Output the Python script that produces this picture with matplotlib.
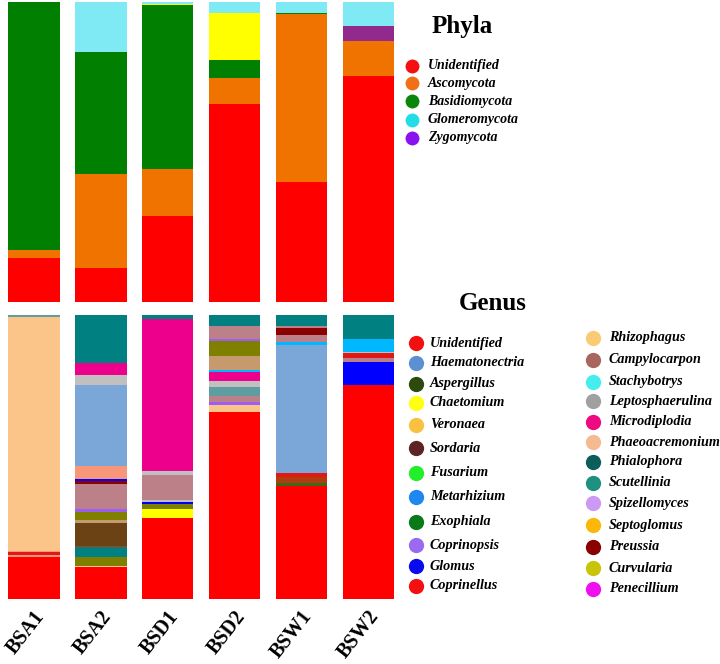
import matplotlib
matplotlib.use("Agg")
import matplotlib.pyplot as plt
import matplotlib.transforms as mtransforms
import numpy as np

# ---------------- data ----------------
samples = ["BSA1", "BSA2", "BSD1", "BSD2", "BSW1", "BSW2"]

# Phyla (% relative abundance), stacked bottom -> top
phyla_names = ["Unidentified", "Ascomycota", "Basidiomycota", "Other", "Zygomycota", "Glomeromycota"]
phy_unidentified = [14.7, 11.3, 28.7, 66.0, 40.0, 75.3]
phy_ascomycota = [2.5, 31.3, 15.7, 8.7, 56.0, 11.7]
phy_basidiomycota = [82.8, 40.7, 54.7, 6.0, 0.5, 0.0]
phy_other = [0.0, 0.0, 0.3, 15.7, 0.0, 0.0]
phy_zygomycota = [0.0, 0.0, 0.0, 0.0, 0.0, 5.0]
phy_glomeromycota = [0.0, 16.7, 0.7, 3.7, 3.5, 8.0]

# Genus segments per sample, stacked bottom -> top
genus_BSA1 = [("Unidentified", 14.8), ("Rhizophagus", 0.6), ("Coprinellus", 1.0),
              ("Rhizophagus", 0.6), ("Phaeoacremonium", 82.2), ("Scutellinia", 0.8)]
genus_BSA2 = [("Unidentified", 11.3), ("Septoglomus", 0.4), ("Curvularia", 3.0),
              ("Phialophora", 3.6), ("Fusarium", 0.5), ("Sordaria", 7.9), ("Veronaea", 1.0),
              ("Curvularia", 2.7), ("Coprinopsis", 1.2), ("Campylocarpon", 8.7),
              ("Preussia", 1.0), ("Glomus", 0.8), ("Rhizophagus", 4.7),
              ("Haematonectria", 28.5), ("Leptosphaerulina", 3.4), ("Microdiplodia", 4.2),
              ("Phialophora", 16.9)]
genus_BSD1 = [("Unidentified", 28.3), ("Chaetomium", 3.2), ("Curvularia", 1.8),
              ("Glomus", 0.7), ("Leptosphaerulina", 0.7), ("Campylocarpon", 9.0),
              ("Leptosphaerulina", 1.2), ("Microdiplodia", 53.5), ("Phialophora", 1.4)]
genus_BSD2 = [("Unidentified", 65.6), ("Phaeoacremonium", 2.6), ("Coprinopsis", 0.9),
              ("Campylocarpon", 2.2), ("Scutellinia", 3.1), ("Leptosphaerulina", 2.2),
              ("Microdiplodia", 3.3), ("Metarhizium", 0.6), ("Veronaea", 5.0),
              ("Curvularia", 5.3), ("Coprinopsis", 0.6), ("Campylocarpon", 4.6),
              ("Phialophora", 3.8)]
genus_BSW1 = [("Unidentified", 39.7), ("Aspergillus", 0.9), ("Fusarium", 2.1),
              ("Coprinellus", 1.6), ("Haematonectria", 45.0), ("Metarhizium", 1.1),
              ("Campylocarpon", 2.5), ("Preussia", 2.3), ("Campylocarpon", 0.6),
              ("Phialophora", 4.0)]
genus_BSW2 = [("Unidentified", 75.2), ("Glomus", 8.2), ("Campylocarpon", 1.4),
              ("Coprinellus", 1.5), ("Leptosphaerulina", 0.4), ("Metarhizium", 4.6),
              ("Phialophora", 8.5)]

phyla_legend = ["Unidentified", "Ascomycota", "Basidiomycota", "Glomeromycota", "Zygomycota"]
genus_legend_left = ["Unidentified", "Haematonectria", "Aspergillus", "Chaetomium", "Veronaea",
                     "Sordaria", "Fusarium", "Metarhizium", "Exophiala", "Coprinopsis",
                     "Glomus", "Coprinellus"]
genus_legend_right = ["Rhizophagus", "Campylocarpon", "Stachybotrys", "Leptosphaerulina",
                      "Microdiplodia", "Phaeoacremonium", "Phialophora", "Scutellinia",
                      "Spizellomyces", "Septoglomus", "Preussia", "Curvularia", "Penecillium"]

# ---------------- styles ----------------
phyla_bar_colors = {"Unidentified": "#FF0000", "Ascomycota": "#F07300", "Basidiomycota": "#007F00",
                    "Other": "#FFFF00", "Zygomycota": "#922A8E", "Glomeromycota": "#7FEAF4"}
phyla_leg_colors = {"Unidentified": "#F41010", "Ascomycota": "#F07018", "Basidiomycota": "#0A860A",
                    "Glomeromycota": "#22DDE6", "Zygomycota": "#8A12F0"}
genus_bar_colors = {"Unidentified": "#FF0000", "Phialophora": "#008080", "Microdiplodia": "#EC008C",
                    "Leptosphaerulina": "#C0C0C0", "Haematonectria": "#7BA7D8",
                    "Campylocarpon": "#BC8089", "Rhizophagus": "#F8967A", "Glomus": "#0000FF",
                    "Preussia": "#8B0000", "Coprinopsis": "#9B5DF5", "Curvularia": "#808000",
                    "Veronaea": "#C69A6C", "Sordaria": "#6B4213", "Phaeoacremonium": "#FBC58A",
                    "Scutellinia": "#5F9EA0", "Metarhizium": "#00B8FF", "Chaetomium": "#FFFF00",
                    "Fusarium": "#B23C0C", "Aspergillus": "#3A6A1A", "Coprinellus": "#E01818",
                    "Septoglomus": "#FFC890"}
genus_leg_colors = {"Unidentified": "#F41010", "Haematonectria": "#5C90D2", "Aspergillus": "#2C4A0E",
                    "Chaetomium": "#FFFF10", "Veronaea": "#FAC040", "Sordaria": "#5E2424",
                    "Fusarium": "#22EE2A", "Metarhizium": "#1E88F0", "Exophiala": "#0A7A18",
                    "Coprinopsis": "#9B6BEF", "Glomus": "#0A0AEE", "Coprinellus": "#F41010",
                    "Rhizophagus": "#F9CB74", "Campylocarpon": "#A8665E", "Stachybotrys": "#44EEEE",
                    "Leptosphaerulina": "#A0A0A0", "Microdiplodia": "#EE0A80",
                    "Phaeoacremonium": "#F5BA90", "Phialophora": "#0B5E5A", "Scutellinia": "#1E9080",
                    "Spizellomyces": "#CC99F5", "Septoglomus": "#FBB80B", "Preussia": "#8B0000",
                    "Curvularia": "#C7C40A", "Penecillium": "#EE10EE"}

W, H = 720, 664
fig = plt.figure(figsize=(W / 100, H / 100), dpi=100)

def px_axes(x0, y0, x1, y1):
    return fig.add_axes([x0 / W, 1 - y1 / H, (x1 - x0) / W, (y1 - y0) / H])

xpos = np.arange(len(samples))
bar_w = 0.77
xlim = (-0.51, 5.40)

# ---- Phyla panel ----
ax1 = px_axes(0, 2, 395, 302)
phy_matrix = np.array([phy_unidentified, phy_ascomycota, phy_basidiomycota,
                       phy_other, phy_zygomycota, phy_glomeromycota], dtype=float)
phy_matrix = phy_matrix / phy_matrix.sum(axis=0) * 100
bottom = np.zeros(len(samples))
for name, vals in zip(phyla_names, phy_matrix):
    ax1.bar(xpos, vals, bottom=bottom, width=bar_w, color=phyla_bar_colors[name], linewidth=0)
    bottom += vals
ax1.set_xlim(*xlim)
ax1.set_ylim(0, 100)
ax1.axis("off")

# ---- Genus panel ----
ax2 = px_axes(0, 315, 395, 599)
genus_data = [genus_BSA1, genus_BSA2, genus_BSD1, genus_BSD2, genus_BSW1, genus_BSW2]
for i, segs in enumerate(genus_data):
    total = sum(v for _, v in segs)
    b = 0.0
    for name, v in segs:
        h = v / total * 100
        ax2.bar(xpos[i], h, bottom=b, width=bar_w, color=genus_bar_colors[name], linewidth=0)
        b += h
ax2.set_xlim(*xlim)
ax2.set_ylim(0, 100)
for s in ax2.spines.values():
    s.set_visible(False)
ax2.set_yticks([])
ax2.set_xticks(xpos)
ax2.set_xticklabels(samples, rotation=52, ha="right", va="center", rotation_mode="anchor",
                    fontfamily="Liberation Serif", fontweight="bold", fontsize=14.5)
ax2.tick_params(axis="x", length=0, pad=10)
offset = mtransforms.ScaledTranslation(7 / 100, 0, fig.dpi_scale_trans)
for lab in ax2.get_xticklabels():
    lab.set_transform(lab.get_transform() + offset)

# ---- legends (overlay in pixel coordinates) ----
lax = fig.add_axes([0, 0, 1, 1], zorder=5)
lax.set_xlim(0, W)
lax.set_ylim(H, 0)
lax.axis("off")
lax.patch.set_alpha(0)

serif = "Liberation Serif"
lax.text(462, 26, "Phyla", ha="center", va="center", fontfamily=serif,
         fontweight="bold", fontsize=18)
lax.text(493, 304, "Genus", ha="center", va="center", fontfamily=serif,
         fontweight="bold", fontsize=18)

phyla_y = [66, 83, 101, 120, 138]
for name, y in zip(phyla_legend, phyla_y):
    lax.plot(412, y, "o", ms=10, color=phyla_leg_colors[name], mec="none")
    lax.text(428, y, name, ha="left", va="center", fontfamily=serif, fontweight="bold",
             fontstyle="italic", fontsize=10)

left_y = [343, 363, 384, 403, 425, 448, 473, 497, 522, 545, 566, 586]
right_y = [338, 360, 382, 401, 422, 442, 462, 483, 503, 525, 547, 568, 589]
for name, y in zip(genus_legend_left, left_y):
    lax.plot(416, y, "o", ms=11, color=genus_leg_colors[name], mec="none")
    lax.text(430, y, name, ha="left", va="center", fontfamily=serif, fontweight="bold",
             fontstyle="italic", fontsize=10.2)
for name, y in zip(genus_legend_right, right_y):
    lax.plot(593, y, "o", ms=11, color=genus_leg_colors[name], mec="none")
    lax.text(609, y, name, ha="left", va="center", fontfamily=serif, fontweight="bold",
             fontstyle="italic", fontsize=10.2)

fig.savefig("out.png", dpi=100)
